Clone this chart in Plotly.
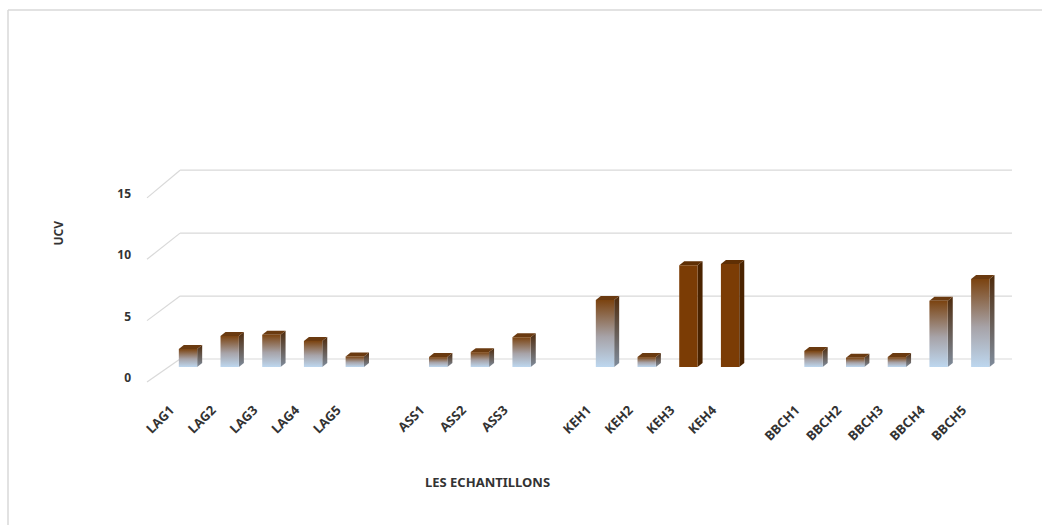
import plotly.graph_objects as go

# Samples, grouped by site (an empty slot separates consecutive groups)
lag_samples = ["LAG1", "LAG2", "LAG3", "LAG4", "LAG5"]
lag_ucv = [1.45, 2.5, 2.6, 2.1, 0.85]

ass_samples = ["ASS1", "ASS2", "ASS3"]
ass_ucv = [0.8, 1.2, 2.4]

keh_samples = ["KEH1", "KEH2", "KEH3", "KEH4"]
keh_ucv = [5.4, 0.8, 8.2, 8.3]

bbch_samples = ["BBCH1", "BBCH2", "BBCH3", "BBCH4", "BBCH5"]
bbch_ucv = [1.3, 0.75, 0.8, 5.35, 7.1]

y_ticks = [0, 5, 10, 15]

groups = [
    (lag_samples, lag_ucv),
    (ass_samples, ass_ucv),
    (keh_samples, keh_ucv),
    (bbch_samples, bbch_ucv),
]

# ---- styling / pseudo-3D geometry -------------------------------------
SOLID_SAMPLES = {"KEH3", "KEH4"}
HALF_W = 0.22           # half width of a column front face (slot units)
DX, DY = 0.12, 0.32     # depth of a column (oblique projection)
LABEL_SHIFT = 0.42      # category labels sit on the front edge of the floor

FRONT_X, FRONT_Y0, FRONT_K = -0.983, -1.21, 0.99   # front edge of side wall
BACK_X0, BACK_X1 = -0.19, 19.76                    # back wall extent
BACK_Y0, BACK_K = 0.645, 1.015                     # back wall scale
TICK_Y0, TICK_K = -0.887, 0.99                     # value-axis label positions

GRID = "#d9d9d9"
TEXT = "#333333"
FONT = "Noto Sans"

FRONT_SCALE = [[0.0, "#bdd7ef"], [0.45, "#a7a3a8"], [1.0, "#7b4310"]]
SIDE_SCALE = [[0.0, "#7f8c9c"], [1.0, "#4e2a0b"]]
TOP_COLOR = "#6a3a10"
SOLID_FRONT, SOLID_SIDE, SOLID_TOP = "#7b3c05", "#4a2300", "#5f2f04"

# slot positions
names, values, slots = [], [], []
slot = 0
for g_names, g_vals in groups:
    for n, v in zip(g_names, g_vals):
        names.append(n)
        values.append(v)
        slots.append(slot)
        slot += 1
    slot += 1

fig = go.Figure()

def poly(xs, ys, **kw):
    fig.add_trace(go.Scatter(
        x=xs + [xs[0]], y=ys + [ys[0]], mode="lines", fill="toself",
        line=dict(width=0), hoverinfo="skip", showlegend=False, **kw))

def line(xs, ys):
    fig.add_trace(go.Scatter(
        x=xs, y=ys, mode="lines", line=dict(color=GRID, width=1.2),
        hoverinfo="skip", showlegend=False))

# side wall diagonals and back wall gridlines
for t in y_ticks:
    yb = BACK_Y0 + BACK_K * t
    line([FRONT_X, BACK_X0], [FRONT_Y0 + FRONT_K * t, yb])
    line([BACK_X0, BACK_X1], [yb, yb])

# columns
for n, v, s in zip(names, values, slots):
    xl, xr = s - HALF_W, s + HALF_W
    solid = n in SOLID_SAMPLES
    # right side face
    side_xs = [xr, xr + DX, xr + DX, xr]
    side_ys = [0, DY, v + DY, v]
    if solid:
        poly(side_xs, side_ys, fillcolor=SOLID_SIDE)
    else:
        poly(side_xs, side_ys, fillgradient=dict(
            type="vertical", colorscale=SIDE_SCALE, start=0, stop=v + DY))
    # top face
    poly([xl, xr, xr + DX, xl + DX], [v, v, v + DY, v + DY],
         fillcolor=SOLID_TOP if solid else TOP_COLOR)
    # front face
    front_xs = [xl, xr, xr, xl]
    front_ys = [0, 0, v, v]
    if solid:
        poly(front_xs, front_ys, fillcolor=SOLID_FRONT)
    else:
        poly(front_xs, front_ys, fillgradient=dict(
            type="vertical", colorscale=FRONT_SCALE, start=0, stop=v))

W, H = 1042, 525
L, R, T, B = 140, 10, 150, 135
pw, ph = W - L - R, H - T - B

# chart-area frame: only its top and left edges fall inside the page
frame_left = (8 - L) / pw
frame_top = (T + ph - 10) / ph

fig.update_layout(
    width=W, height=H,
    margin=dict(l=L, r=R, t=T, b=B),
    paper_bgcolor="white", plot_bgcolor="white",
    font=dict(family=FONT, color=TEXT),
    xaxis=dict(
        range=[-1.151, 20.24], showgrid=False, zeroline=False, showline=False,
        tickmode="array", tickvals=[s - LABEL_SHIFT for s in slots],
        ticktext=names, tickangle=-45, ticks="",
        tickfont=dict(family=FONT, size=13, color=TEXT, weight="bold"),
        ticklabelstandoff=9,
    ),
    yaxis=dict(
        range=[-1.855, 17.5], showgrid=False, zeroline=False, showline=False,
        tickmode="array", tickvals=[TICK_Y0 + TICK_K * t for t in y_ticks],
        ticktext=[str(t) for t in y_ticks], ticks="",
        tickfont=dict(family=FONT, size=12, color=TEXT, weight="bold"),
        ticklabelstandoff=8,
    ),
    annotations=[
        dict(text="UCV", xref="paper", yref="paper",
             x=(47 - L) / pw, y=(T + ph - 233) / ph, textangle=-90,
             showarrow=False, font=dict(size=12, color=TEXT, weight="bold")),
        dict(text="LES ECHANTILLONS", xref="paper", yref="paper",
             x=(487 - L) / pw, y=(T + ph - 493) / ph,
             showarrow=False, font=dict(size=13, color=TEXT, weight="bold")),
    ],
    shapes=[
        dict(type="line", xref="paper", yref="paper",
             x0=frame_left, x1=(W + 40 - L) / pw, y0=frame_top, y1=frame_top,
             line=dict(color="#d9d9d9", width=1.5), layer="below"),
        dict(type="line", xref="paper", yref="paper",
             x0=frame_left, x1=frame_left, y0=-(B + 5) / ph, y1=frame_top,
             line=dict(color="#d9d9d9", width=1.5), layer="below"),
    ],
)

fig.write_html("out.html")
